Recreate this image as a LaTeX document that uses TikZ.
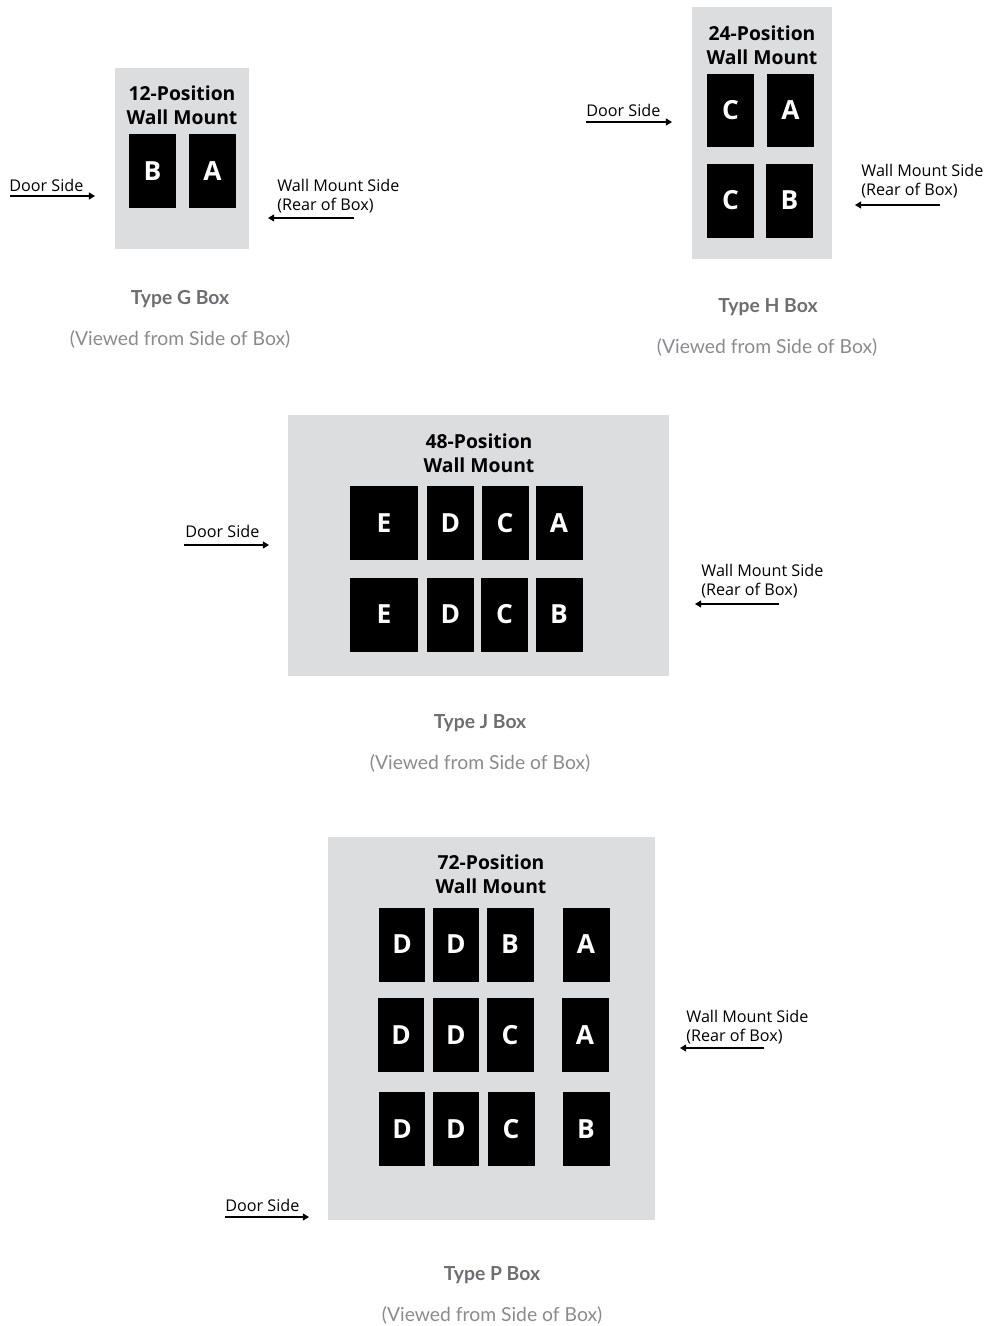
\documentclass[tikz,border=0pt]{standalone}
\usepackage{fontspec}
\setmainfont{Open Sans}
\newfontfamily\lato{Lato}
\usetikzlibrary{arrows.meta}

\definecolor{boxgray}{HTML}{DCDDDF}
\definecolor{capgray}{HTML}{6D6E71}
\definecolor{subgray}{HTML}{8A8B8E}

\tikzset{
  housing/.style={fill=boxgray},
  slot/.style={fill=black, text=white, font=\fontsize{15}{17}\selectfont\bfseries,
    minimum width=0.94cm, minimum height=1.48cm, inner sep=0pt},
  heading/.style={font=\fontsize{11}{13.6}\selectfont\bfseries, align=center, inner sep=0pt},
  side/.style={font=\fontsize{9.2}{10.8}\selectfont, inner sep=0pt, align=left},
  pointer/.style={-{Triangle[length=3.5pt,width=4pt]}, line width=0.6pt},
  boxname/.style={font=\lato\fontsize{11}{13}\selectfont\bfseries, text=capgray},
  viewnote/.style={font=\lato\fontsize{11}{13}\selectfont, text=subgray}
}

\begin{document}
\begin{tikzpicture}[x=0.02cm, y=-0.02cm]
\useasboundingbox (0,0) rectangle (989,1326);

% Type G
\fill[housing] (115,68) rectangle (249,249);
\node[heading] (gtitle) at (182,105) {12-Position\\Wall Mount};
\node[slot] (gB) at (152.5,171) {B};
\node[slot] (gA) at (212.5,171) {A};
\node[side, anchor=base west] (gdoor) at (9,191) {Door Side};
\coordinate (gdoorS) at (10,196);
\coordinate (gdoorE) at (95,196);
\draw[pointer] (gdoorS) -- (gdoorE);
\node[side, anchor=west] (gwall) at (277,196) {Wall Mount Side\\(Rear of Box)};
\coordinate (gwallS) at (354,218);
\coordinate (gwallE) at (268,218);
\draw[pointer] (gwallS) -- (gwallE);
\node[boxname] (gname) at (180,299) {Type G Box};
\node[viewnote] (gview) at (180,339) {(Viewed from Side of Box)};

% Type H
\fill[housing] (692,7) rectangle (832,259);
\node[heading] (htitle) at (762,45) {24-Position\\Wall Mount};
\node[slot] (hC1) at (730.5,110.5) {C};
\node[slot] (hA) at (790.5,110.5) {A};
\node[slot] (hC2) at (730.5,200.5) {C};
\node[slot] (hB) at (789.5,200.5) {B};
\node[side, anchor=base west] (hdoor) at (586,116) {Door Side};
\coordinate (hdoorS) at (586,122);
\coordinate (hdoorE) at (672,122);
\draw[pointer] (hdoorS) -- (hdoorE);
\node[side, anchor=west] (hwall) at (861,181) {Wall Mount Side\\(Rear of Box)};
\coordinate (hwallS) at (940,205);
\coordinate (hwallE) at (855,205);
\draw[pointer] (hwallS) -- (hwallE);
\node[boxname] (hname) at (768,307) {Type H Box};
\node[viewnote] (hview) at (767,347) {(Viewed from Side of Box)};

% Type J
\fill[housing] (288,415) rectangle (669,676);
\node[heading] (jtitle) at (479,453) {48-Position\\Wall Mount};
\node[slot, minimum width=1.36cm] (jE1) at (384,523) {E};
\node[slot] (jD1) at (450.5,523) {D};
\node[slot] (jC1) at (505,523) {C};
\node[slot] (jA) at (559,523) {A};
\node[slot, minimum width=1.36cm] (jE2) at (384,614.5) {E};
\node[slot] (jD2) at (450.5,614.5) {D};
\node[slot] (jC2) at (504.5,614.5) {C};
\node[slot] (jB) at (559,614.5) {B};
\node[side, anchor=base west] (jdoor) at (185,537) {Door Side};
\coordinate (jdoorS) at (184,545);
\coordinate (jdoorE) at (269,545);
\draw[pointer] (jdoorS) -- (jdoorE);
\node[side, anchor=west] (jwall) at (701,581.5) {Wall Mount Side\\(Rear of Box)};
\coordinate (jwallS) at (779,604);
\coordinate (jwallE) at (695,604);
\draw[pointer] (jwallS) -- (jwallE);
\node[boxname] (jname) at (480,723) {Type J Box};
\node[viewnote] (jview) at (480,763) {(Viewed from Side of Box)};

% Type P
\fill[housing] (328,837) rectangle (655,1220);
\node[heading] (ptitle) at (491,874) {72-Position\\Wall Mount};
\node[slot] (pD1) at (402,944.5) {D};
\node[slot] (pD2) at (456,944.5) {D};
\node[slot] (pB1) at (510,944.5) {B};
\node[slot] (pA1) at (586,944.5) {A};
\node[slot] (pD3) at (401,1035) {D};
\node[slot] (pD4) at (456,1035) {D};
\node[slot] (pC1) at (510,1035) {C};
\node[slot] (pA2) at (585,1035) {A};
\node[slot] (pD5) at (402,1129) {D};
\node[slot] (pD6) at (456,1129) {D};
\node[slot] (pC2) at (511,1129) {C};
\node[slot] (pB2) at (586,1129) {B};
\node[side, anchor=base west] (pdoor) at (225,1211) {Door Side};
\coordinate (pdoorS) at (225,1217);
\coordinate (pdoorE) at (309,1217);
\draw[pointer] (pdoorS) -- (pdoorE);
\node[side, anchor=west] (pwall) at (686,1027) {Wall Mount Side\\(Rear of Box)};
\coordinate (pwallS) at (764,1048);
\coordinate (pwallE) at (680,1048);
\draw[pointer] (pwallS) -- (pwallE);
\node[boxname] (pname) at (492,1275) {Type P Box};
\node[viewnote] (pview) at (492,1315) {(Viewed from Side of Box)};
\end{tikzpicture}
\end{document}
